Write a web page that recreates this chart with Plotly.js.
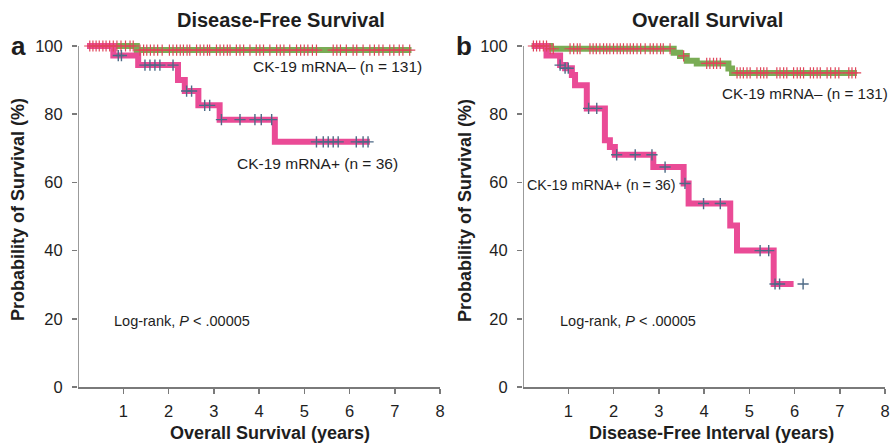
<!DOCTYPE html>
<html>
<head>
<meta charset="utf-8">
<script src="https://cdn.plot.ly/plotly-3.0.1.min.js"></script>
<style>
html,body{margin:0;padding:0;background:#fff;}
#chart{width:893px;height:443px;}
</style>
</head>
<body>
<div id="chart"></div>
<script>
// ---------- DATA ----------
// Panel a: Disease-Free Survival (x = Overall Survival years)
var aNegTime = [0.2, 1.3, 7.37];
var aNegSurv = [100, 98.8, 98.8];
var aNegCensor = [0.26,0.33,0.4,0.47,0.55,0.62,0.7,0.78,0.86,0.95,1.05,1.15,1.22,
  1.37,1.45,1.52,1.6,1.68,1.76,1.86,2.02,2.1,2.18,2.26,2.33,2.41,2.47,
  2.62,2.7,2.78,2.86,2.91,3.06,3.14,3.22,3.3,3.36,3.5,3.58,3.66,3.8,
  3.94,4.02,4.1,4.24,4.39,4.47,4.55,4.68,4.83,4.92,5.0,5.08,5.18,5.27,
  5.64,5.72,5.8,5.93,6.08,6.16,6.3,6.45,6.55,6.65,6.74,6.89,6.98,7.1,7.18,7.33];

var aPosTime = [0.2, 0.78, 1.33, 2.21, 2.36, 2.66, 3.13, 4.35, 6.45];
var aPosSurv = [100, 97.2, 94.4, 90.0, 86.8, 82.6, 78.4, 71.9, 71.9];
var aPosCensor = [0.89,0.96,1.48,1.59,1.70,1.81,2.10,2.40,2.51,2.80,2.91,3.17,3.58,
  3.91,4.05,4.28,5.27,5.42,5.53,5.64,5.75,6.15,6.30,6.41];

// Panel b: Overall Survival (x = Disease-Free Interval years)
var bNegTime = [0.19, 0.6, 3.33, 3.47, 3.62, 3.84, 4.54, 4.62, 7.38];
var bNegSurv = [100, 99.2, 98.0, 97.1, 95.7, 94.9, 93.4, 92.1, 92.1];
var bNegCensor = [0.23,0.3,0.37,0.45,0.52,0.6,0.67,1.04,1.12,1.2,1.26,
  1.48,1.55,1.62,1.70,1.78,1.85,1.92,2.0,2.08,2.15,2.22,2.3,2.37,2.44,
  2.52,2.6,2.7,2.81,2.88,2.96,3.04,3.10,3.25,3.55,4.06,4.13,4.21,4.28,4.36,
  4.73,4.8,4.87,4.95,5.02,5.17,5.25,5.32,5.39,5.61,5.68,5.76,5.83,
  5.98,6.06,6.13,6.20,6.35,6.42,6.5,6.57,6.72,6.8,6.9,6.98,7.20,7.27,7.35];

var bPosTime = [0.2, 0.52, 0.82, 0.93, 1.08, 1.15, 1.41, 1.81, 1.92, 2.03, 2.88, 3.55, 3.66, 4.58, 4.73, 5.54, 5.98];
var bPosSurv = [100, 97.2, 94.4, 93.5, 91.5, 88.5, 81.7, 72.4, 70.4, 68.1, 64.5, 59.7, 53.8, 47.4, 40.0, 30.2, 30.2];
var bPosCensor = [0.82,0.93,1.0,1.45,1.63,2.07,2.48,2.85,3.14,3.58,3.99,4.36,5.24,5.43,5.57,5.67,6.19];

var yTicks = [0, 20, 40, 60, 80, 100];
var xTicks = [1, 2, 3, 4, 5, 6, 7, 8];

// ---------- STYLE ----------
var W = 893, H = 443;
var GREEN = '#7aac55', PINK = '#ea4b96', RED = '#e0455a', BLUE = '#4d6a86';
var AX = '#7a7a7a', TXT = '#1e1e1e';
var FONT = 'Liberation Sans, Arial, sans-serif';

function stepY(times, surv, t) {
  var v = surv[0];
  for (var i = 0; i < times.length; i++) { if (times[i] <= t) v = surv[i]; }
  return v;
}
function px(x) { return x / W; }
function py(y) { return 1 - y / H; }

function panelTraces(negT, negS, negC, posT, posS, posC, xa, ya) {
  return [
    {x: negT, y: negS, xaxis: xa, yaxis: ya, mode: 'lines', line: {shape: 'hv', color: GREEN, width: 6}, hoverinfo: 'skip'},
    {x: posT, y: posS, xaxis: xa, yaxis: ya, mode: 'lines', line: {shape: 'hv', color: PINK, width: 6}, hoverinfo: 'skip'},
    {x: negC, y: negC.map(function (t) { return stepY(negT, negS, t); }), xaxis: xa, yaxis: ya, mode: 'markers',
      marker: {symbol: 'cross-thin', size: 8, line: {width: 1.2, color: RED}}, cliponaxis: false, hoverinfo: 'skip'},
    {x: posC, y: posC.map(function (t) { return stepY(posT, posS, t); }), xaxis: xa, yaxis: ya, mode: 'markers',
      marker: {symbol: 'cross-thin', size: 8, line: {width: 1.4, color: BLUE}}, cliponaxis: false, hoverinfo: 'skip'}
  ];
}

var data = [].concat(
  panelTraces(aNegTime, aNegSurv, aNegCensor, aPosTime, aPosSurv, aPosCensor, 'x', 'y'),
  panelTraces(bNegTime, bNegSurv, bNegCensor, bPosTime, bPosSurv, bPosCensor, 'x2', 'y2')
);

var yDomTop = py(46) + 2 * 3.4 / H;
var yDom = [py(387), yDomTop];

function xAxis(domain, anchor) {
  return {domain: domain, anchor: anchor, range: [0, 8], tickvals: xTicks, ticktext: xTicks.map(String),
    showline: true, linecolor: AX, linewidth: 1.5, ticks: 'outside', ticklen: 5, tickwidth: 1.5, tickcolor: AX,
    showgrid: false, zeroline: false, tickfont: {family: FONT, size: 16.5, color: TXT}, ticklabelstandoff: 4,
    automargin: false, fixedrange: true};
}
function yAxis(anchor) {
  return {domain: yDom, anchor: anchor, range: [0, 102], tickvals: yTicks, ticktext: yTicks.map(String),
    showline: false, ticks: 'outside', ticklen: 5, tickwidth: 1.5, tickcolor: AX,
    showgrid: false, zeroline: false, tickfont: {family: FONT, size: 16.5, color: TXT}, ticklabelstandoff: 6,
    automargin: false, fixedrange: true};
}

function ann(text, x, y, size, opts) {
  var o = {text: text, xref: 'paper', yref: 'paper', x: px(x), y: py(y), showarrow: false,
    xanchor: 'left', yanchor: 'middle', font: {family: FONT, size: size, color: TXT}};
  if (opts) for (var k in opts) o[k] = opts[k];
  return o;
}

var annotations = [
  ann('<b>a</b>', 18, 46, 26, {xanchor: 'center'}),
  ann('<b>b</b>', 464, 46, 26, {xanchor: 'center'}),
  ann('<b>Disease-Free Survival</b>', 281, 20, 20, {xanchor: 'center'}),
  ann('<b>Overall Survival</b>', 707, 20, 20, {xanchor: 'center'}),
  ann('<b>Overall Survival (years)</b>', 270, 433, 18, {xanchor: 'center'}),
  ann('<b>Disease-Free Interval (years)</b>', 711, 433, 18, {xanchor: 'center'}),
  ann('<b>Probability of Survival (%)</b>', 18, 210, 18, {xanchor: 'center', textangle: -90}),
  ann('<b>Probability of Survival (%)</b>', 465, 210, 18, {xanchor: 'center', textangle: -90}),
  ann('CK-19 mRNA\u2013 (n = 131)', 251, 67, 15.5),
  ann('CK-19 mRNA+ (n = 36)', 235, 163, 15.5),
  ann('Log-rank, <i>P</i> &lt; .00005', 112, 321, 14.5),
  ann('CK-19 mRNA\u2013 (n = 131)', 720, 93, 15.2),
  ann('CK-19 mRNA+ (n = 36)', 525, 185, 14.3),
  ann('Log-rank, <i>P</i> &lt; .00005', 558, 321, 14.5)
];

var shapes = [
  {type: 'line', xref: 'x', yref: 'y', x0: 0, x1: 0, y0: 0, y1: 100, line: {color: AX, width: 1.5}},
  {type: 'line', xref: 'x2', yref: 'y2', x0: 0, x1: 0, y0: 0, y1: 100, line: {color: AX, width: 1.5}}
];

var layout = {
  width: W, height: H, margin: {l: 0, r: 0, t: 0, b: 0},
  paper_bgcolor: '#fff', plot_bgcolor: '#fff', showlegend: false,
  font: {family: FONT, color: TXT},
  xaxis: xAxis([px(78), px(440)], 'y'),
  yaxis: yAxis('x'),
  xaxis2: xAxis([px(523), px(885)], 'y2'),
  yaxis2: yAxis('x2'),
  annotations: annotations,
  shapes: shapes
};

Plotly.newPlot('chart', data, layout, {displayModeBar: false, staticPlot: true});
</script>
</body>
</html>
